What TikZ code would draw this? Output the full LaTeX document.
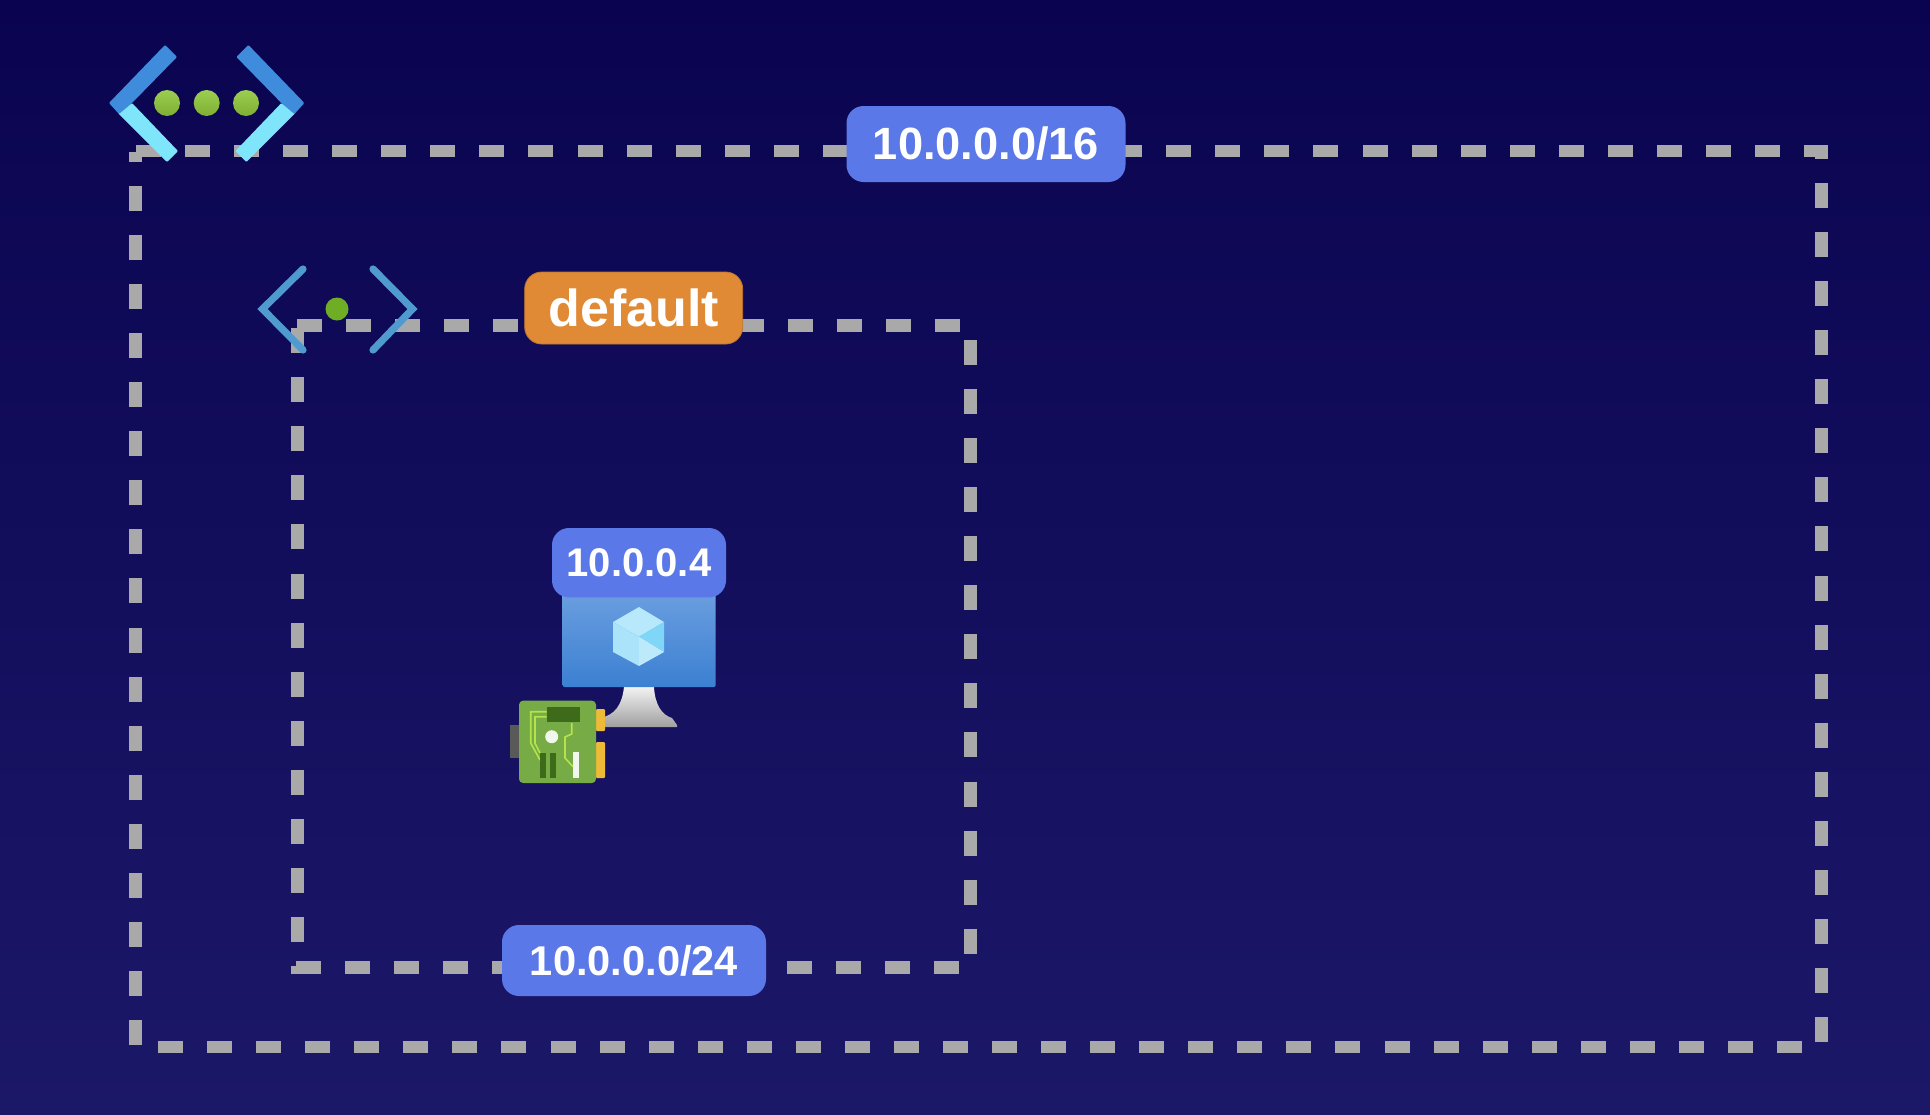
\documentclass[tikz,border=0pt]{standalone}
\usepackage{fontspec}
\setmainfont{Liberation Sans}
\definecolor{bgtop}{HTML}{0A0450}
\definecolor{bgbottom}{HTML}{1C1868}
\definecolor{dashgray}{HTML}{A9A9A9}
\definecolor{tagblue}{HTML}{5B78E8}
\definecolor{tagorange}{HTML}{E08A36}
\definecolor{arrowblue}{HTML}{3F8BDC}
\definecolor{arrowcyan}{HTML}{7FE5FB}
\definecolor{thinblue}{HTML}{4F9BD0}
\definecolor{dotgreen}{HTML}{6FAE24}
\definecolor{dottop}{HTML}{9BCF4F}
\definecolor{dotbottom}{HTML}{7FAE34}
\definecolor{screentop}{HTML}{6C9FE0}
\definecolor{screenbottom}{HTML}{3B80D2}
\definecolor{boardgreen}{HTML}{76AB45}
\definecolor{chipgreen}{HTML}{3D6B1A}
\definecolor{tracegreen}{HTML}{B5E24F}
\definecolor{gold}{HTML}{EEBB38}
\tikzset{
    x=0.5pt,y=-0.5pt,
    boxline/.style={draw=dashgray,line width=6.3pt,dash pattern=on 12.5pt off 12.03pt},
    tagbox/.style={fill=tagblue,rounded corners=8.5pt,text=white,font=\bfseries,inner sep=0pt,align=center},
    bigarm/.style={rounded corners=0.5pt},
    thinarm/.style={draw=thinblue,line width=3.6pt,line cap=round,miter limit=10},
    trace/.style={draw=tracegreen,line width=0.8pt}
}
\begin{document}
\begin{tikzpicture}
    \useasboundingbox (0,0) rectangle (1930,1114);
    \shade[top color=bgtop,bottom color=bgbottom] (0,0) rectangle (1930,1114);

    \coordinate (outerA) at (136,151);
    \coordinate (outerB) at (1828,151);
    \coordinate (outerC) at (1821.5,153);
    \coordinate (outerD) at (1821.5,1042);
    \coordinate (outerE) at (1802,1047);
    \coordinate (outerF) at (157,1047);
    \coordinate (outerG) at (135.5,1045);
    \coordinate (outerH) at (135.5,152);
    \draw[boxline] (outerA)--(outerB);
    \draw[boxline,dash phase=9.5pt] (outerC)--(outerD);
    \draw[boxline] (outerE)--(outerF);
    \draw[boxline] (outerG)--(outerH);

    \coordinate (innerA) at (297,325.7);
    \coordinate (innerB) at (961,325.7);
    \coordinate (innerC) at (970.3,340);
    \coordinate (innerD) at (970.3,954);
    \coordinate (innerE) at (959,967.3);
    \coordinate (innerF) at (292,967.3);
    \coordinate (innerG) at (297.5,974);
    \coordinate (innerH) at (297.5,328);
    \draw[boxline] (innerA)--(innerB);
    \draw[boxline] (innerC)--(innerD);
    \draw[boxline] (innerE)--(innerF);
    \draw[boxline,dash phase=8.5pt] (innerG)--(innerH);

    \fill[arrowcyan,bigarm] (132,103)--(178,151)--(167,162)--(118,113)--cycle;
    \fill[arrowcyan,bigarm] (281.4,103)--(235.4,151)--(246.4,162)--(295.4,113)--cycle;
    \fill[arrowblue,bigarm] (109,103)--(165,45)--(177,57)--(132,103)--(119,114)--cycle;
    \fill[arrowblue,bigarm] (304.4,103)--(248.4,45)--(236.4,57)--(281.4,103)--(294.4,114)--cycle;
    \foreach \dotx in {167,206.7,246}
        \shade[top color=dottop,bottom color=dotbottom] (\dotx,103) circle [radius=13];

    \draw[thinarm] (303,269)--(262.5,309)--(303,350);
    \draw[thinarm] (373,269)--(412.5,309)--(373,350);
    \fill[dotgreen] (337,309) circle [radius=11.5];

    \node[tagbox,minimum width=139.5pt,minimum height=38pt] (vnetTag) at (986,144) {\fontsize{22.6}{26}\selectfont 10.0.0.0/16};
    \node[tagbox,fill=tagorange,draw=tagorange!85!black,line width=0.4pt,minimum width=109pt,minimum height=36pt] (subnetName) at (633.7,308) {\fontsize{26}{30}\selectfont default};
    \node[tagbox,minimum width=132pt,minimum height=35.5pt] (subnetTag) at (634,960.5) {\fontsize{20.8}{24}\selectfont 10.0.0.0/24};

    \shade[top color=white!90!gray,bottom color=gray!75] (624,687)--(654,687)
        .. controls (655,705) and (662,715) .. (672,718)--(677,725)--(677,727)--(600,727)--(600,718)
        .. controls (615,715) and (622,705) .. (624,687)--cycle;
    \shade[top color=screentop,bottom color=screenbottom,rounded corners=1pt] (562.7,590) rectangle (715.7,687);
    \fill[cyan!28!white] (613,622)--(639,607)--(664,622)--(639,636.7)--cycle;
    \fill[cyan!33!white] (613,622)--(639,636.7)--(639,666)--(613,652)--cycle;
    \fill[cyan!50!white] (664,622)--(664,652)--(639,636.7)--cycle;
    \fill[cyan!26!white] (639,636.7)--(664,652)--(639,666)--cycle;
    \node[tagbox,minimum width=87pt,minimum height=34.7pt] (vmTag) at (639,562.7) {\fontsize{20}{24}\selectfont 10.0.0.4};

    \fill[black!65] (510,725) rectangle (519,758);
    \fill[gold,rounded corners=0.5pt] (596,709) rectangle (605,731);
    \fill[gold,rounded corners=0.5pt] (596,742) rectangle (605,778);
    \fill[boardgreen,rounded corners=2pt] (519,700.7) rectangle (596,783);
    \fill[chipgreen] (547,707) rectangle (580,722);
    \draw[trace] (546.7,711.7)--(530.7,711.7)--(530.7,743)--(540,760);
    \draw[trace] (546.7,716.7)--(535,716.7)--(535,743.3)--(540,753);
    \draw[trace] (571.7,723)--(571.7,734)--(565,737)--(565,758)--(573,766.7);
    \fill[white!90!boardgreen] (551.7,736.7) circle [radius=6.5];
    \fill[chipgreen] (540,752.7) rectangle (546,778);
    \fill[chipgreen] (550,752.7) rectangle (556,778);
    \fill[white!90!boardgreen] (573,752) rectangle (579,778);
\end{tikzpicture}
\end{document}
